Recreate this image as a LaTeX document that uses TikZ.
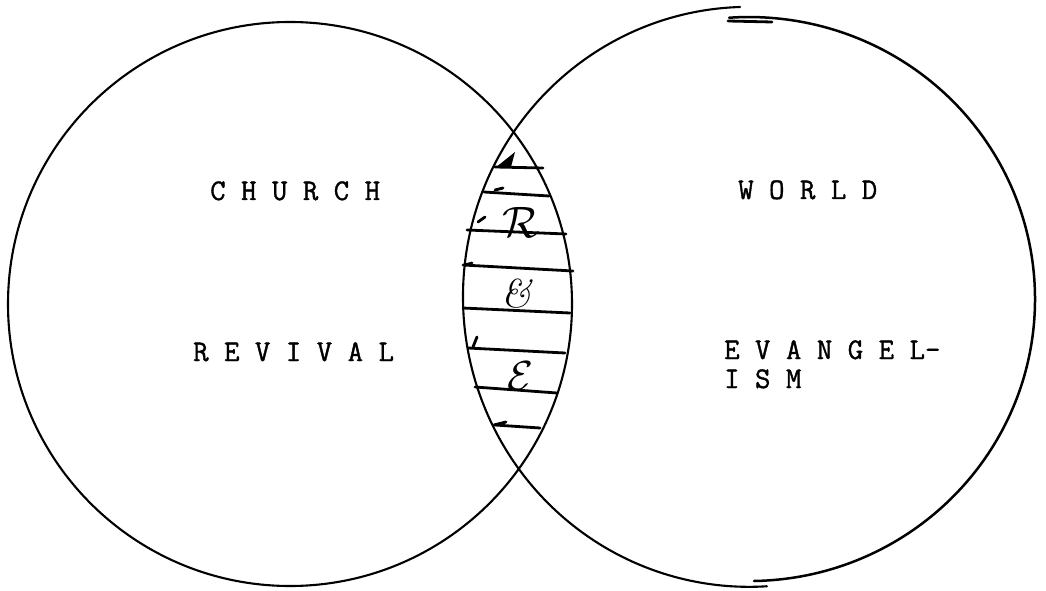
\documentclass[tikz,border=0pt]{standalone}
\usepackage{fontspec}
\newfontfamily\twfont{Latin Modern Mono}[FakeBold=1.2]
\begin{document}
\begin{tikzpicture}[x=1pt,y=1pt,
  tw/.style={font=\fontsize{30}{30}\selectfont\twfont, inner sep=0pt, anchor=base west},
  pen/.style={line width=2.1pt, line cap=round},
  hatch/.style={line width=2.8pt, line cap=round},
  hand/.style={inner sep=0pt}]
\useasboundingbox (0,0) rectangle (1046,590);
% left circle (CHURCH)
\draw[pen] (290,286) circle (282);
% right circle (WORLD), drawn by hand in two overlapping strokes
\draw[pen] (740,583) arc[start angle=91.8, end angle=273.6, x radius=286, y radius=290];
\draw[pen, line width=2.5pt] (754,9) arc[start angle=-89, end angle=94, x radius=286, y radius=282];
\draw[pen, line width=2.8pt] (728,569) -- (772,568);
% hatching of the overlap
\draw[hatch] (495,423) -- (543,422);
\draw[hatch] (484,398) -- (549,394);
\draw[hatch] (467,360) -- (566,356);
\draw[hatch] (463,325) -- (573,319);
\draw[hatch] (463,282) -- (570,277);
\draw[hatch] (468,242) -- (565,237);
\draw[hatch] (475,203) -- (557,197);
\draw[hatch] (495,165) -- (540,162);
% small pen marks at the left ends
\fill (495,422) -- (515,438) -- (511,423) -- cycle;
\draw[hatch] (495,400) -- (503,402);
\draw[hatch] (478,368) -- (485,373);
\draw[hatch] (465,325) -- (472,327);
\draw[hatch] (473,243) -- (477,253);
\draw[hatch] (494,165) -- (506,168);
% handwritten letters
\node[hand, scale=4.4] (R) at (521,368) {$\mathcal{R}$};
\node[hand, font=\fontsize{40}{40}\selectfont\itshape] (amp) at (516,296) {\&};
\node[hand, scale=4.2] (E) at (520,214) {$\mathcal{E}$};
% typed labels
\node[tw] (church) at (210,390) {C H U R C H};
\node[tw] (revival) at (193,229) {R E V I V A L};
\node[tw] (world) at (738,391) {W O R L D};
\node[tw] (evang) at (724,231) {E V A N G E L-};
\node[tw] (ism) at (724,202) {I S M};
\end{tikzpicture}
\end{document}
